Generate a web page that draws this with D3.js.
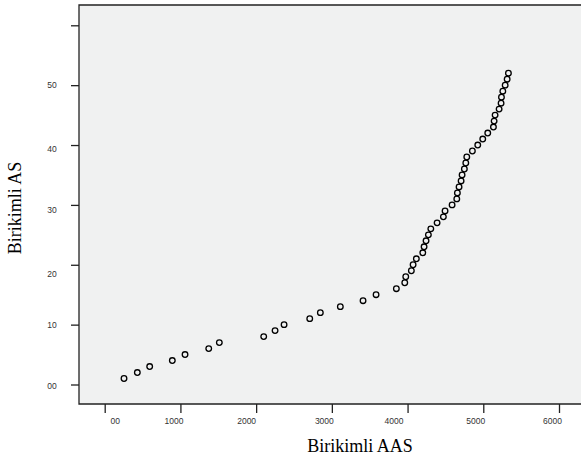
<!DOCTYPE html>
<html>
<head>
<meta charset="utf-8">
<script src="https://cdn.jsdelivr.net/npm/d3@7"></script>
<style>
  body { margin: 0; background: #fff; }
  svg { display: block; }
</style>
</head>
<body>
<svg id="chart" width="581" height="459"></svg>
<script>
// Birikimli AAS (x) vs Birikimli AS (y)
const aas = [255, 431, 594, 893, 1061, 1374, 1514, 2100, 2250, 2369,
  2708, 2848, 3112, 3412, 3584, 3852, 3963, 3976, 4050, 4073,
  4116, 4201, 4218, 4244, 4275, 4307, 4390, 4473, 4495, 4588,
  4650, 4658, 4680, 4707, 4720, 4750, 4769, 4782, 4856, 4927,
  4993, 5059, 5134, 5143, 5156, 5209, 5235, 5240, 5258, 5289,
  5315, 5332];
const as = [1, 2, 3, 4, 5, 6, 7, 8, 9, 10,
  11, 12, 13, 14, 15, 16, 17, 18, 19, 20,
  21, 22, 23, 24, 25, 26, 27, 28, 29, 30,
  31, 32, 33, 34, 35, 36, 37, 38, 39, 40,
  41, 42, 43, 44, 45, 46, 47, 48, 49, 50,
  51, 52];

const xTicks = [0, 1000, 2000, 3000, 4000, 5000, 6000];
const xTickLabels = ["00", "1000", "2000", "3000", "4000", "5000", "6000"];
const yTicks = [0, 10, 20, 30, 40, 50, 60];
const yTickLabels = ["00", "10", "20", "30", "40", "50", ""];

// layout (SPSS-like placement of the labels)
const frame = { left: 79, top: 5, right: 581, bottom: 404 };
const xLabelNudge = [10, -7, -10, -8, -14, -8, -7];
const yLabelNudge = [1, 0, 9, 5, 3, -1, 0];

const svg = d3.select("#chart");
const x = d3.scaleLinear().domain([0, 6000]).range([104.7, 559]);
const y = d3.scaleLinear().domain([0, 60]).range([384.5, 25.3]);

svg.append("rect")
  .attr("x", frame.left).attr("y", frame.top)
  .attr("width", frame.right - frame.left)
  .attr("height", frame.bottom - frame.top)
  .attr("fill", "#f0f1f1");

svg.append("path")
  .attr("d", `M${frame.right},${frame.top}H${frame.left}V${frame.bottom}H${frame.right}`)
  .attr("fill", "none")
  .attr("stroke", "#222")
  .attr("stroke-width", 1.3);

// x axis
const xAxis = svg.append("g")
  .attr("transform", `translate(0,${frame.bottom})`)
  .call(d3.axisBottom(x).tickValues(xTicks).tickSize(9).tickSizeOuter(0)
    .tickFormat((d, i) => xTickLabels[i]));
xAxis.select(".domain").remove();
xAxis.selectAll(".tick line").attr("stroke", "#222").attr("stroke-width", 1.3);
xAxis.selectAll(".tick text")
  .attr("font-family", "Liberation Sans, Arial, sans-serif")
  .attr("font-size", 8.5)
  .attr("fill", "#333")
  .attr("y", 14)
  .attr("dx", (d, i) => xLabelNudge[i]);

// y axis
const yAxis = svg.append("g")
  .attr("transform", `translate(${frame.left},0)`)
  .call(d3.axisLeft(y).tickValues(yTicks).tickSize(8).tickSizeOuter(0)
    .tickFormat((d, i) => yTickLabels[i]));
yAxis.select(".domain").remove();
yAxis.selectAll(".tick line").attr("stroke", "#222").attr("stroke-width", 1.3);
yAxis.selectAll(".tick text")
  .attr("font-family", "Liberation Sans, Arial, sans-serif")
  .attr("font-size", 8.5)
  .attr("fill", "#333")
  .attr("text-anchor", "middle")
  .attr("x", -27)
  .attr("dy", (d, i) => yLabelNudge[i] + 3);

// points
svg.append("g").selectAll("circle")
  .data(aas.map((v, i) => [v, as[i]]))
  .join("circle")
  .attr("cx", d => x(d[0]))
  .attr("cy", d => y(d[1]))
  .attr("r", 2.8)
  .attr("fill", "none")
  .attr("stroke", "#000")
  .attr("stroke-width", 1.3);

// axis titles
svg.append("text")
  .attr("x", 360).attr("y", 452)
  .attr("text-anchor", "middle")
  .attr("font-family", "Liberation Serif, Times New Roman, serif")
  .attr("font-size", 18)
  .text("Birikimli AAS");

svg.append("text")
  .attr("transform", "translate(21,208) rotate(-90)")
  .attr("text-anchor", "middle")
  .attr("font-family", "Liberation Serif, Times New Roman, serif")
  .attr("font-size", 18)
  .text("Birikimli AS");
</script>
</body>
</html>
